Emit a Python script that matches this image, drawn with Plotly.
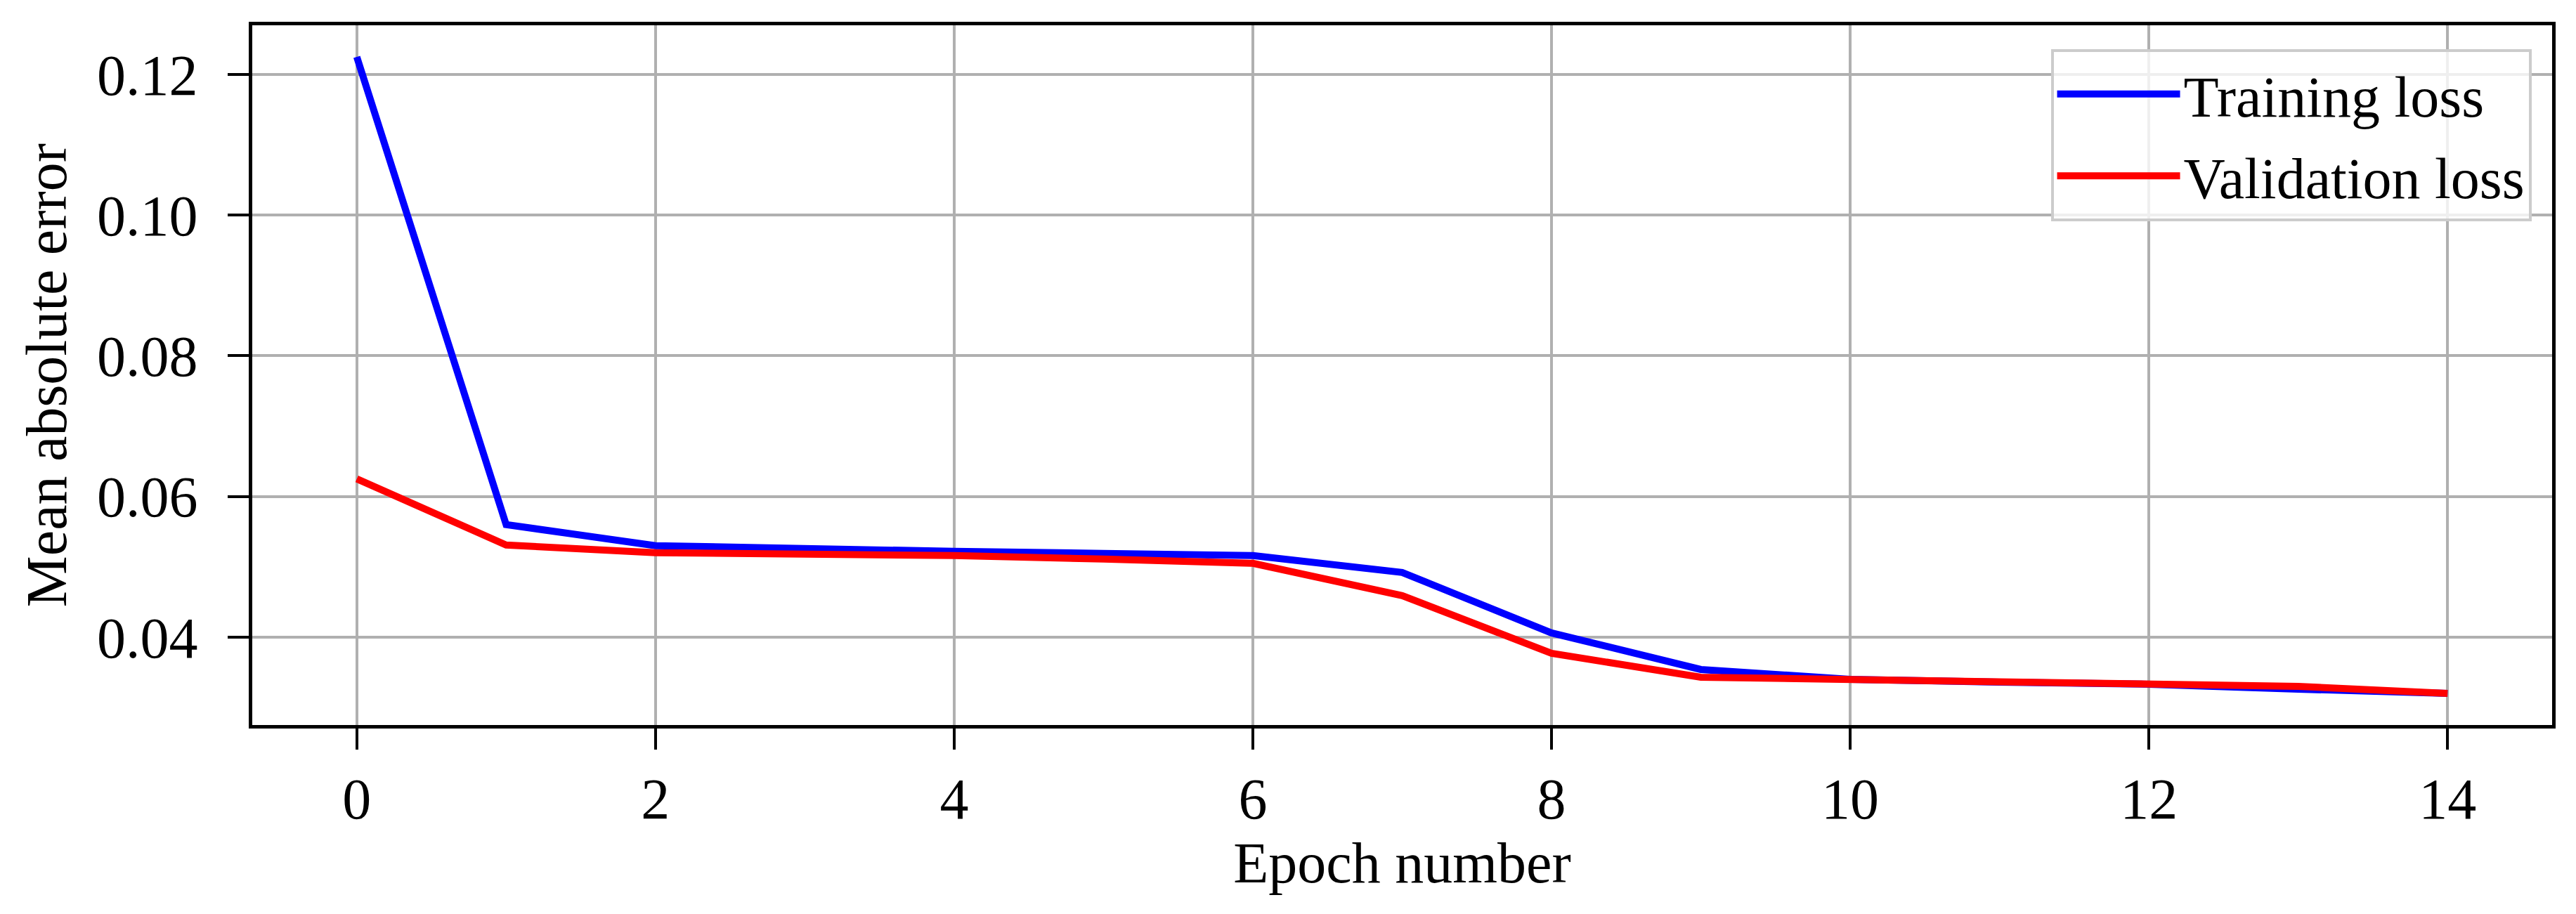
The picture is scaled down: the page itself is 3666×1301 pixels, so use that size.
import plotly.graph_objects as go

# loss per epoch
epochs = list(range(15))
training_loss = [0.1225, 0.0560, 0.0530, 0.0525, 0.0522, 0.0519, 0.0516, 0.0492, 0.0406,
                 0.0354, 0.0340, 0.0336, 0.0333, 0.0326, 0.0320]
validation_loss = [0.0625, 0.0531, 0.0520, 0.0518, 0.0516, 0.0511, 0.0505, 0.0459, 0.0377,
                   0.0343, 0.0340, 0.0336, 0.0333, 0.0330, 0.0320]
x_ticks = [0, 2, 4, 6, 8, 10, 12, 14]
y_ticks = [0.04, 0.06, 0.08, 0.10, 0.12]

font = "Liberation Serif"
fsize = 82

fig = go.Figure()
fig.add_trace(go.Scatter(x=epochs, y=training_loss, mode="lines", name="Training loss",
                         legendgroup="train", line=dict(color="#0000ff", width=10)))
fig.add_trace(go.Scatter(x=epochs, y=validation_loss, mode="lines", name="Validation loss",
                         legendgroup="val", line=dict(color="#ff0000", width=10)))

axis_style = dict(showline=True, linecolor="black", linewidth=5, mirror=True,
                  showgrid=True, gridcolor="#b0b0b0", gridwidth=4,
                  ticks="outside", ticklen=30, tickwidth=4, tickcolor="black",
                  zeroline=False, tickfont=dict(family=font, size=fsize, color="black"))

fig.update_xaxes(range=[-0.7, 14.7], tickvals=x_ticks,
                 title=dict(text="Epoch number", font=dict(family=font, size=fsize, color="black"),
                            standoff=0),
                 **axis_style)
fig.update_yaxes(range=[0.0275, 0.127], tickvals=y_ticks, tickformat=".2f",
                 ticklabelstandoff=26,
                 title=dict(text="Mean absolute error", font=dict(family=font, size=fsize, color="black"),
                            standoff=18),
                 **axis_style)

fig.update_layout(
    width=3666, height=1301,
    margin=dict(l=351, r=42, t=28, b=277),
    plot_bgcolor="white", paper_bgcolor="white",
    font=dict(family=font, size=fsize, color="black"),
    legend=dict(x=0.991, y=0.966, xanchor="right", yanchor="top",
                bgcolor="rgba(255,255,255,0.8)", bordercolor="#cccccc", borderwidth=4,
                itemwidth=175, tracegroupgap=7, font=dict(family=font, size=fsize)),
)

fig.write_html("out.html")
